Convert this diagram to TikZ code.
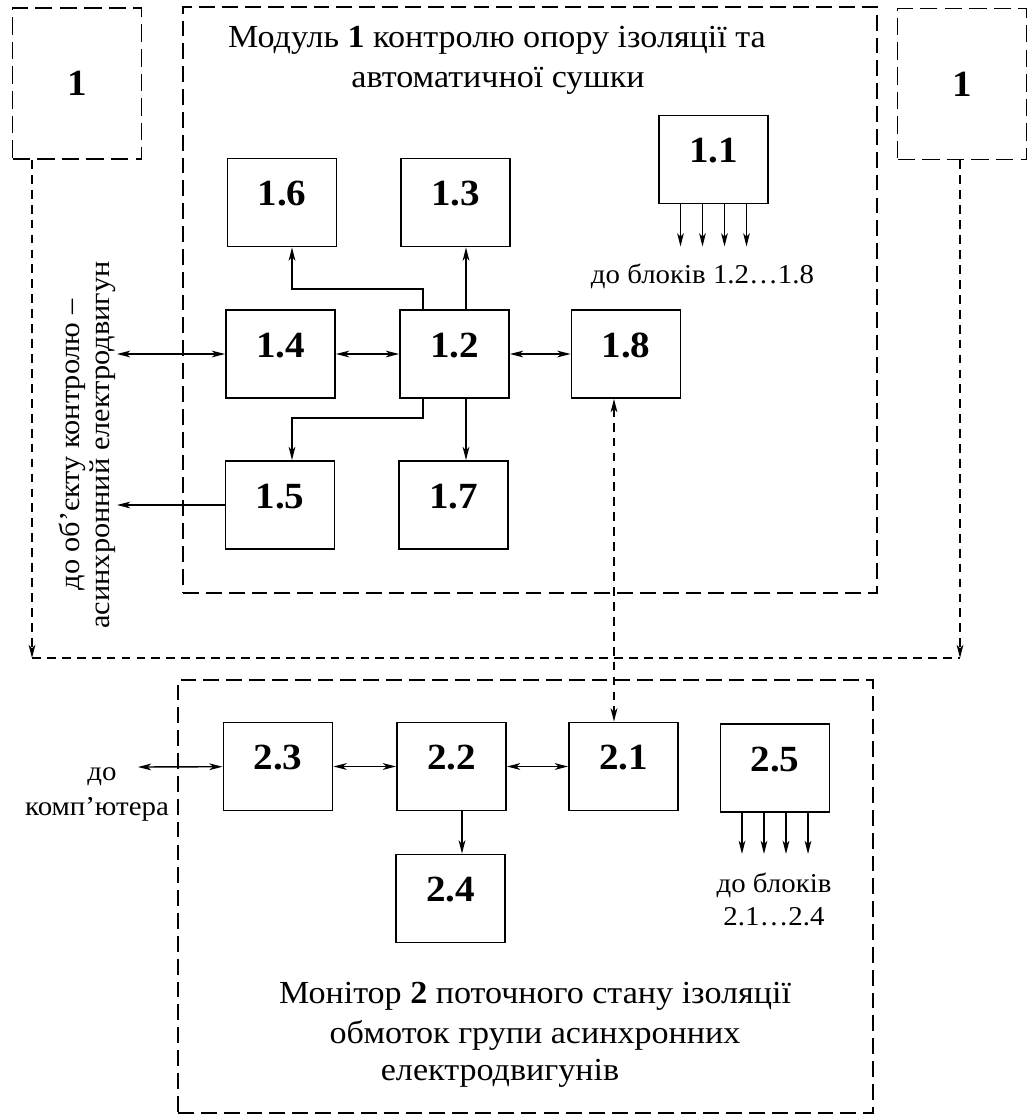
\documentclass[tikz,border=0pt]{standalone}
\usepackage{fontspec}
\setmainfont{Liberation Serif}[FakeStretch=1.06]
\usetikzlibrary{arrows.meta}

\tikzset{
  blk/.style={draw, line width=1.1pt, minimum width=2.18cm, minimum height=1.76cm,
    text depth=0.36cm, font=\fontsize{21}{25}\selectfont\bfseries},
  dbox/.style={draw, line width=1.1pt, dash pattern=on 10pt off 4pt,
    minimum width=2.58cm, minimum height=3.02cm, font=\fontsize{21}{25}\selectfont\bfseries},
  modbox/.style={draw, line width=1.1pt, dash pattern=on 9pt off 4pt},
  bus/.style={line width=1pt, dash pattern=on 5pt off 3.5pt},
  ttl/.style={anchor=base, inner sep=0pt, font=\fontsize{18.3}{22}\selectfont},
  lbl/.style={anchor=base, inner sep=0pt, font=\fontsize{15.5}{19}\selectfont},
  wire/.style={line width=0.8pt}
}

\begin{document}
\begin{tikzpicture}[x=0.02cm, y=-0.02cm,
    >={Stealth[length=7.5pt,width=3.8pt,inset=2pt]}]
  \useasboundingbox (0,0) rectangle (1027,1117);

  % outer blocks 1
  \node[dbox] (m1L) at (77,83.5) {1};
  \node[dbox] (m1R) at (962,84) {1};

  % module 1
  \node[modbox, minimum width=13.88cm, minimum height=11.72cm] (mod1) at (530,300) {};
  \node[ttl] (mod1a) at (497,47) {Модуль \textbf{1} контролю опору ізоляції та};
  \node[ttl] (mod1b) at (498,87) {автоматичної сушки};

  \node[blk] (b16) at (282,202.5) {1.6};
  \node[blk] (b13) at (455.5,202.5) {1.3};
  \node[blk] (b11) at (713.5,159.5) {1.1};
  \node[blk] (b14) at (280.5,354) {1.4};
  \node[blk] (b12) at (454.5,354) {1.2};
  \node[blk] (b18) at (626,354) {1.8};
  \node[blk] (b15) at (280,505) {1.5};
  \node[blk] (b17) at (453.5,505) {1.7};

  \node[lbl] (b11t) at (702.5,283) {до блоків 1.2…1.8};
  \node[lbl, anchor=center, rotate=90, align=center, inner sep=0pt,
    font=\fontsize{16.3}{17}\selectfont] (objt) at (87,445)
    {до об’єкту контролю –\\асинхронний електродвигун};

  \coordinate (j1) at (423,289);
  \coordinate (j2) at (292,289);
  \coordinate (j3) at (423,418);
  \coordinate (j4) at (292,418);
  \coordinate (r1) at (466,0);
  \coordinate (objA) at (117,354);
  \coordinate (objB) at (117,505);

  \draw[wire,->] (b12.north -| j1) -- (j1) -- (j2) -- (b16.south -| j2);
  \draw[wire,->] (b12.north -| r1) -- (b13.south -| r1);
  \draw[wire,->] (b12.south -| j3) -- (j3) -- (j4) -- (b15.north -| j4);
  \draw[wire,->] (b12.south -| r1) -- (b17.north -| r1);
  \draw[wire,<->] (b14) -- (b12);
  \draw[wire,<->] (b12) -- (b18);
  \draw[wire,<->] (objA) -- (b14);
  \draw[wire,->] (b15) -- (objB);
  \foreach \dx in {-33,-11,11,33}
    \draw[wire,->] ([xshift=\dx*0.02cm]b11.south) -- ++(0,42);

  % bus between blocks 1
  \coordinate (busL) at (32,658);
  \coordinate (busR) at (960,658);
  \coordinate (lnk) at (614,0);
  \draw[bus,->] (m1L.south -| busL) -- (busL);
  \draw[bus,->] (m1R.south -| busR) -- (busR);
  \draw[bus] (busL) -- (busR);

  % monitor 2
  \node[modbox, minimum width=13.9cm, minimum height=8.66cm] (mon2) at (525.5,896.5) {};
  \node[blk] (b23) at (278,766.5) {2.3};
  \node[blk] (b22) at (451.5,766.5) {2.2};
  \node[blk] (b21) at (623.5,766.5) {2.1};
  \node[blk] (b24) at (450.5,898.5) {2.4};
  \node[blk] (b25) at (775,768) {2.5};

  \draw[bus,<->] (b18.south -| lnk) -- (b21.north -| lnk);

  \coordinate (pc) at (138,767);
  \coordinate (k1) at (462,0);
  \draw[wire,<->] (pc) -- (b23);
  \draw[wire,<->] (b23) -- (b22);
  \draw[wire,<->] (b22) -- (b21);
  \draw[wire,->] (b22.south -| k1) -- (b24.north -| k1);
  \foreach \dx in {-33,-11,11,33}
    \draw[wire,->] ([xshift=\dx*0.02cm]b25.south) -- ++(0,41);

  \node[lbl] (pca) at (102,780) {до};
  \node[lbl] (pcb) at (97,815) {комп’ютера};
  \node[lbl] (b25a) at (774,892) {до блоків};
  \node[lbl] (b25b) at (774,925) {2.1…2.4};

  \node[ttl] (mon2a) at (535,1003) {Монітор \textbf{2} поточного стану ізоляції};
  \node[ttl] (mon2b) at (535,1043) {обмоток групи асинхронних};
  \node[ttl] (mon2c) at (500,1080) {електродвигунів};
\end{tikzpicture}
\end{document}
